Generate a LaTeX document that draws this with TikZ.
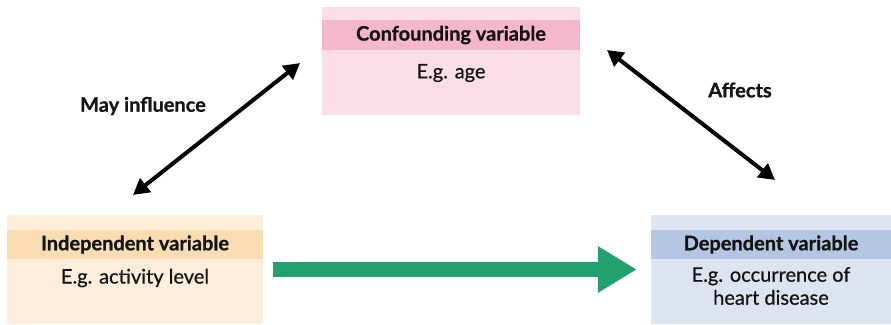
\documentclass[tikz,border=0pt]{standalone}
\usepackage{fontspec}
\setmainfont{Lato}[UprightFeatures={FakeBold=0.7}, BoldFeatures={FakeBold=0.9}]
\usepackage{xcolor}
\usepackage{tikz}
\usetikzlibrary{arrows.meta}

\definecolor{pinkbg}{RGB}{250,221,230}
\definecolor{pinkhd}{RGB}{245,183,202}
\definecolor{peachbg}{RGB}{253,238,220}
\definecolor{peachhd}{RGB}{249,221,176}
\definecolor{bluebg}{RGB}{220,228,241}
\definecolor{bluehd}{RGB}{181,198,226}
\definecolor{grn}{RGB}{34,160,110}
\definecolor{ink}{RGB}{20,20,20}

\tikzset{
box/.style={inner sep=0pt, minimum height=109pt},
headband/.style={inner sep=0pt, minimum height=29pt, font=\fontsize{20}{22}\selectfont\bfseries, text=ink},
bodytxt/.style={font=\fontsize{20}{23}\selectfont, text=ink, align=center},
linktxt/.style={font=\fontsize{20}{22}\selectfont\bfseries, text=ink},
twoway/.style={{Triangle[length=16pt,width=17pt]}-{Triangle[length=16pt,width=17pt]}, line width=4pt},
}

\begin{document}
\begin{tikzpicture}[x=1pt,y=-1pt]
\useasboundingbox (0,0) rectangle (891,324);

% confounding variable
\node[box, fill=pinkbg, minimum width=258pt, minimum height=108pt] (conf) at (451,61) {};
\node[headband, fill=pinkhd, minimum width=258pt, minimum height=30pt] (confhd) at (451,35) {Confounding variable};
\node[bodytxt] (confex) at (451,73) {E.g. age};

% independent variable
\node[box, fill=peachbg, minimum width=256pt] (indep) at (135,269.5) {};
\node[headband, fill=peachhd, minimum width=256pt] (indephd) at (135,244.5) {Independent variable};
\node[bodytxt] (indepex) at (135,278) {E.g. activity level};

% dependent variable
\node[box, fill=bluebg, minimum width=240pt] (dep) at (771,269.5) {};
\node[headband, fill=bluehd, minimum width=240pt] (dephd) at (771,244.5) {Dependent variable};
\node[bodytxt] (depex) at (771,286) {E.g. occurrence of\\heart disease};

% green arrow
\draw[grn, line width=15pt, -{Triangle[length=39pt,width=44pt]}, shorten <=10pt, shorten >=14pt] (indep) -- (dep);

% two-way arrows
\coordinate (mayA) at (133,195);
\coordinate (mayB) at (300,63);
\coordinate (affA) at (607,50);
\coordinate (affB) at (775,180);
\draw[twoway] (mayA) -- (mayB);
\draw[twoway] (affA) -- (affB);
\node[linktxt] (maylbl) at (143,106) {May influence};
\node[linktxt] (afflbl) at (740,90) {Affects};

\end{tikzpicture}
\end{document}
